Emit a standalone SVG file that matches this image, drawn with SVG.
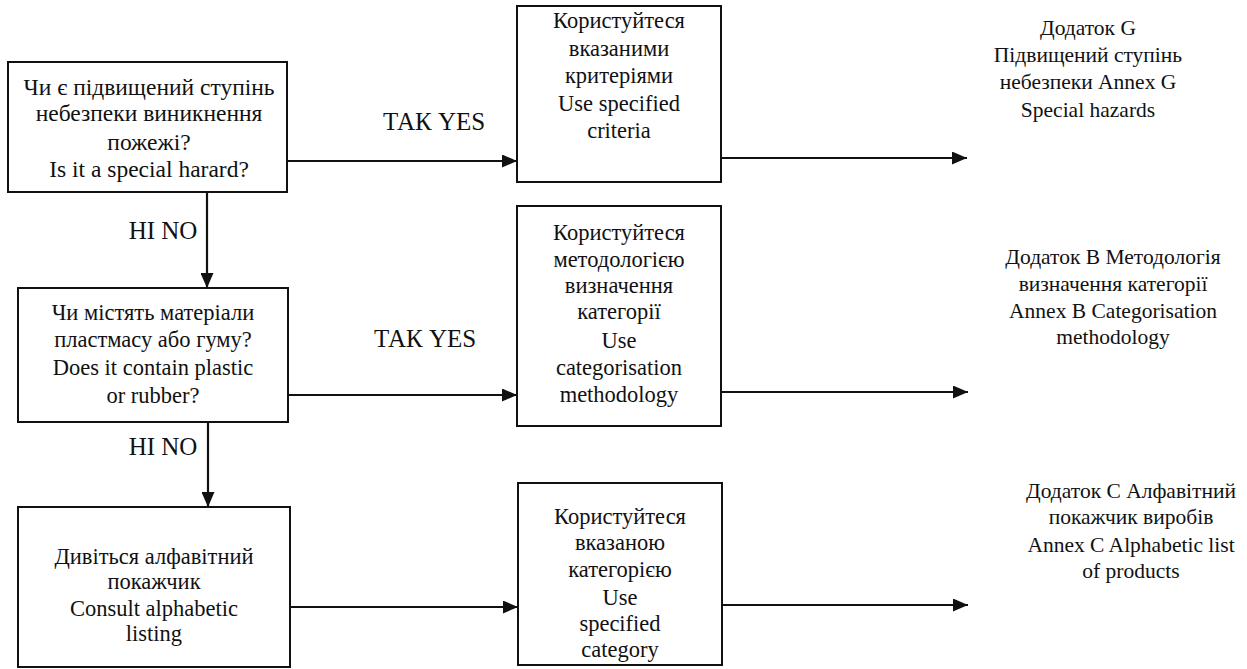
<svg xmlns="http://www.w3.org/2000/svg" width="1247" height="669" viewBox="0 0 1247 669">
<defs>
<style>
.box{fill:#fff;stroke:#111;stroke-width:2}
.t{font-family:"Liberation Serif","Times New Roman",serif;font-size:22.5px;fill:#111;text-anchor:middle}
.big{font-size:23.5px}
.lbl{font-family:"Liberation Serif","Times New Roman",serif;font-size:25px;fill:#111;text-anchor:middle}
.note{font-family:"Liberation Serif","Times New Roman",serif;font-size:21.5px;fill:#111;text-anchor:middle}
.c{fill:none;stroke:#111;stroke-width:2.2}
</style>
<marker id="ah" viewBox="0 0 15 13" refX="15" refY="6.5" markerWidth="15" markerHeight="13" markerUnits="userSpaceOnUse" orient="auto">
<path d="M0,0 L15,6.5 L0,13 z" fill="#111"/>
</marker>
</defs>
<rect width="1247" height="669" fill="#fff"/>

<g id="connectors">
<line class="c" x1="207" y1="192" x2="207" y2="288" marker-end="url(#ah)"/>
<line class="c" x1="208" y1="422" x2="208" y2="507" marker-end="url(#ah)"/>
<line class="c" x1="287" y1="161" x2="517" y2="161" marker-end="url(#ah)"/>
<line class="c" x1="288" y1="395" x2="517" y2="395" marker-end="url(#ah)"/>
<line class="c" x1="290" y1="607" x2="518" y2="607" marker-end="url(#ah)"/>
<line class="c" x1="721" y1="158" x2="967" y2="158" marker-end="url(#ah)"/>
<line class="c" x1="721" y1="392" x2="968" y2="392" marker-end="url(#ah)"/>
<line class="c" x1="722" y1="605" x2="968" y2="605" marker-end="url(#ah)"/>
<text class="lbl" x="163" y="239">НІ NO</text>
<text class="lbl" x="163" y="455">НІ NO</text>
<text class="lbl" x="434" y="130">ТАК YES</text>
<text class="lbl" x="425" y="347">ТАК YES</text>
</g>

<g id="q1">
<rect class="box" x="8" y="62" width="279" height="130"/>
<text class="t big" x="149" y="95">Чи є підвищений ступінь</text>
<text class="t big" x="149" y="121">небезпеки виникнення</text>
<text class="t big" x="149" y="150">пожежі?</text>
<text class="t big" x="149" y="177">Is it a special harard?</text>
</g>

<g id="q2">
<rect class="box" x="18" y="288" width="270" height="134"/>
<text class="t" x="153" y="320">Чи містять матеріали</text>
<text class="t" x="153" y="347">пластмасу або гуму?</text>
<text class="t" x="153" y="375">Does it contain plastic</text>
<text class="t" x="153" y="403">or rubber?</text>
</g>

<g id="q3">
<rect class="box" x="18" y="507" width="272" height="160"/>
<text class="t" x="154" y="564">Дивіться алфавітний</text>
<text class="t" x="154" y="589">покажчик</text>
<text class="t" x="154" y="616">Consult alphabetic</text>
<text class="t" x="154" y="641">listing</text>
</g>

<g id="a1">
<rect class="box" x="517" y="6" width="204" height="176"/>
<text class="t" x="619" y="28">Користуйтеся</text>
<text class="t" x="619" y="56">вказаними</text>
<text class="t" x="619" y="83">критеріями</text>
<text class="t" x="619" y="111">Use specified</text>
<text class="t" x="619" y="138">criteria</text>
</g>

<g id="a2">
<rect class="box" x="517" y="206" width="204" height="220"/>
<text class="t" x="619" y="240">Користуйтеся</text>
<text class="t" x="619" y="267">методологією</text>
<text class="t" x="619" y="293">визначення</text>
<text class="t" x="619" y="319">категорії</text>
<text class="t" x="619" y="348">Use</text>
<text class="t" x="619" y="375">categorisation</text>
<text class="t" x="619" y="402">methodology</text>
</g>

<g id="a3">
<rect class="box" x="518" y="483" width="204" height="182"/>
<text class="t" x="620" y="524">Користуйтеся</text>
<text class="t" x="620" y="550">вказаною</text>
<text class="t" x="620" y="577">категорією</text>
<text class="t" x="620" y="605">Use</text>
<text class="t" x="620" y="631">specified</text>
<text class="t" x="620" y="657">category</text>
</g>

<g id="r1">
<text class="note" x="1088" y="35">Додаток G</text>
<text class="note" x="1088" y="62">Підвищений ступінь</text>
<text class="note" x="1088" y="89">небезпеки Annex G</text>
<text class="note" x="1088" y="117">Special hazards</text>
</g>

<g id="r2">
<text class="note" x="1113" y="264">Додаток В Методологія</text>
<text class="note" x="1113" y="291">визначення категорії</text>
<text class="note" x="1113" y="318">Annex B Categorisation</text>
<text class="note" x="1113" y="344">methodology</text>
</g>

<g id="r3">
<text class="note" x="1131" y="498">Додаток С Алфавітний</text>
<text class="note" x="1131" y="524">покажчик виробів</text>
<text class="note" x="1131" y="552">Annex C Alphabetic list</text>
<text class="note" x="1131" y="578">of products</text>
</g>
</svg>
